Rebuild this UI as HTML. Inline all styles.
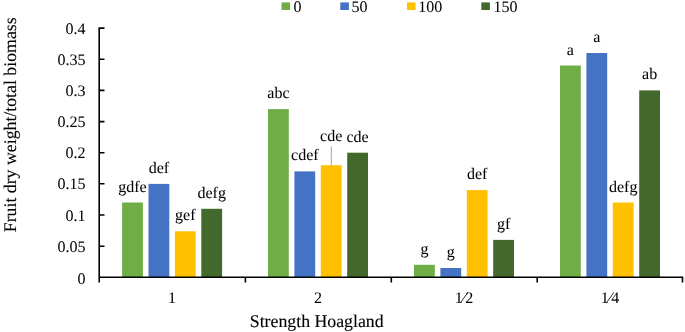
<!DOCTYPE html>
<html><head><meta charset="utf-8">
<style>
html,body{margin:0;padding:0;background:#fff;width:685px;height:332px;overflow:hidden}
svg{display:block;will-change:transform}
text{font-family:"Liberation Serif",serif;fill:#000;text-rendering:geometricPrecision;stroke:#000;stroke-width:0.05px}
.t{stroke-width:0.12px}
</style></head><body>
<svg width="685" height="332" viewBox="0 0 685 332">

<g font-size="16">
<rect x="281.5" y="2.4" width="8.6" height="7.6" fill="#70AD47"/><text x="293.6" y="12.3">0</text>
<rect x="340.3" y="2.4" width="8.6" height="7.6" fill="#4472C4"/><text x="351.5" y="12.3">50</text>
<rect x="407" y="2.4" width="8.6" height="7.6" fill="#FFC000"/><text x="418.2" y="12.3">100</text>
<rect x="481.3" y="2.4" width="8.6" height="7.6" fill="#43682B"/><text x="493.5" y="12.3">150</text>
</g>
<g font-size="16" text-anchor="end">
<text x="85.5" y="283.9">0</text>
<text x="85.5" y="252.2">0.05</text>
<text x="85.5" y="220.5">0.1</text>
<text x="85.5" y="189.3">0.15</text>
<text x="85.5" y="158.2">0.2</text>
<text x="85.5" y="127.1">0.25</text>
<text x="85.5" y="95.9">0.3</text>
<text x="85.5" y="64.8">0.35</text>
<text x="85.5" y="33.6">0.4</text>
</g>
<g>
<rect x="122.1" y="202.5" width="20.8" height="74.8" fill="#70AD47"/>
<rect x="148.5" y="183.9" width="20.8" height="93.4" fill="#4472C4"/>
<rect x="174.9" y="231.3" width="20.8" height="46.0" fill="#FFC000"/>
<rect x="201.3" y="208.8" width="20.8" height="68.5" fill="#43682B"/>
<rect x="268.0" y="109.1" width="20.8" height="168.2" fill="#70AD47"/>
<rect x="294.4" y="171.4" width="20.8" height="105.9" fill="#4472C4"/>
<rect x="320.8" y="165.2" width="20.8" height="112.1" fill="#FFC000"/>
<rect x="347.2" y="152.7" width="20.8" height="124.6" fill="#43682B"/>
<rect x="414.0" y="264.8" width="20.8" height="12.5" fill="#70AD47"/>
<rect x="440.4" y="268.0" width="20.8" height="9.3" fill="#4472C4"/>
<rect x="466.8" y="190.1" width="20.8" height="87.2" fill="#FFC000"/>
<rect x="493.2" y="239.9" width="20.8" height="37.4" fill="#43682B"/>
<rect x="560.0" y="65.5" width="20.8" height="211.8" fill="#70AD47"/>
<rect x="586.4" y="53.0" width="20.8" height="224.3" fill="#4472C4"/>
<rect x="612.8" y="202.5" width="20.8" height="74.8" fill="#FFC000"/>
<rect x="639.2" y="90.4" width="20.8" height="186.9" fill="#43682B"/>
</g>
<line x1="331.3" y1="146.4" x2="331.3" y2="165.3" stroke="#A6A6A6" stroke-width="1"/>
<g stroke="#000" stroke-width="1.6" fill="none">
<path d="M104.5 28.1H99.2V282.5"/>
<path d="M99.2 246.2h5.3M99.2 215.0h5.3M99.2 183.8h5.3M99.2 152.7h5.3M99.2 121.6h5.3M99.2 90.4h5.3M99.2 59.2h5.3"/>
<path d="M99.2 277.3H682.5V282.5"/>
<path d="M245.4 277.3v5.3M391.3 277.3v5.3M537.2 277.3v5.3"/>
</g>
<g font-size="16" text-anchor="middle">
<text x="132.5" y="191.5">gdfe</text>
<text x="158.9" y="172.9">def</text>
<text x="185.3" y="220.3">gef</text>
<text x="211.7" y="197.8">defg</text>
<text x="278.4" y="98.1">abc</text>
<text x="304.8" y="160.4">cdef</text>
<text x="331.2" y="140.6">cde</text>
<text x="357.6" y="141.7">cde</text>
<text x="424.4" y="253.8">g</text>
<text x="450.8" y="257.0">g</text>
<text x="477.2" y="179.1">def</text>
<text x="503.6" y="228.9">gf</text>
<text x="570.4" y="54.5">a</text>
<text x="596.8" y="42.0">a</text>
<text x="623.2" y="191.5">defg</text>
<text x="649.6" y="79.4">ab</text>
</g>
<g font-size="16" text-anchor="middle">
<text x="172.1" y="302.9">1</text>
<text x="318.0" y="302.9">2</text>
<text x="464.0" y="302.9">1&#8260;2</text>
<text x="610.0" y="302.9">1&#8260;4</text>
</g>
<text x="316.7" y="327" class="t" font-size="17.8" text-anchor="middle">Strength Hoagland</text>
<text transform="translate(15.5,124.8) rotate(-90)" class="t" font-size="17.8" text-anchor="middle">Fruit dry weight/total biomass</text>
</svg>
</body></html>
